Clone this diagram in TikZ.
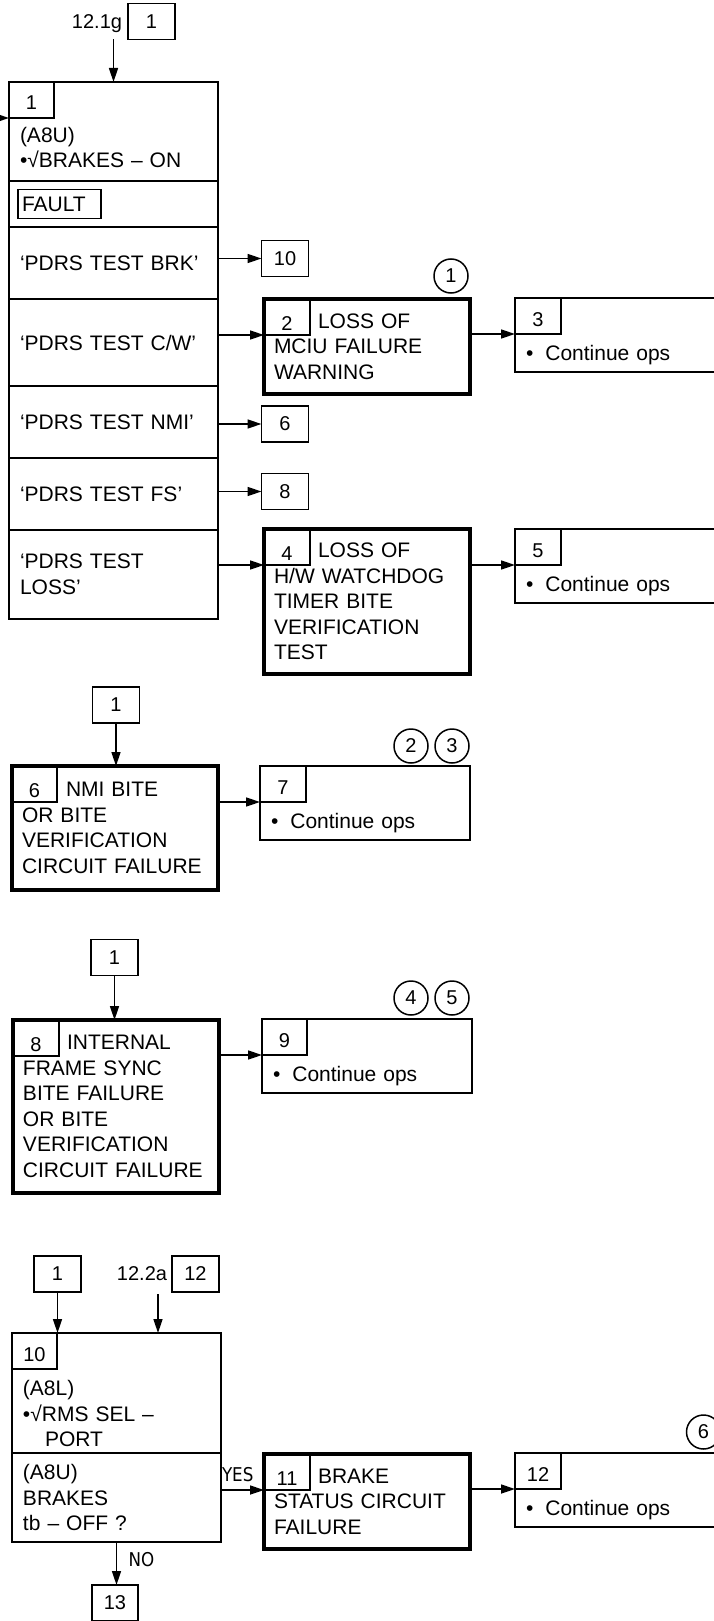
\documentclass[tikz,border=0pt]{standalone}
\usepackage{fontspec}
\setmainfont{Liberation Sans}
\newfontfamily\ynfont[FakeStretch=0.88]{DejaVu Sans}
\usetikzlibrary{arrows.meta,positioning}

\begin{document}
\begin{tikzpicture}[
  x=1pt, y=-1pt,
  font=\fontsize{21}{25.5}\selectfont,
  every node/.style={outer sep=0pt},
  refbox/.style={draw, line width=1.8pt, minimum width=47, minimum height=36, inner sep=0pt, font=\fontsize{20}{24}\selectfont},
  tab/.style={refbox, anchor=north west, minimum width=46, text height=20, text depth=0},
  ftab/.style={tab, text height=26},
  src/.style={inner sep=0pt, font=\fontsize{20}{24}\selectfont},
  row/.style={draw, line width=1.8pt, anchor=north west, minimum width=209, text width=187, inner xsep=11, inner ysep=0pt, align=left},
  fail/.style={draw, line width=4.5pt, anchor=north west, minimum width=206, text width=186, inner xsep=10, inner ysep=0pt, align=left},
  okbox/.style={draw, line width=1.8pt, anchor=north west, minimum width=210, minimum height=74, text width=188, inner xsep=11, inner ysep=0pt, align=left, text height=55, text depth=5},
  note/.style={circle, draw, line width=1.5pt, minimum size=34, inner sep=0pt, font=\fontsize{20}{24}\selectfont},
  yn/.style={inner sep=0pt, font=\ynfont\fontsize{19}{22}\selectfont},
  arr/.style={-{Triangle[length=14pt, width=9pt]}, line width=1.6pt}
]
\path[use as bounding box] (0,0) rectangle (713,1621);

\node[refbox] (ref0) at (151.5,21.5) {1};
\node[src, left=6pt of ref0.base west, anchor=base east] (src0) {12.1g};
\node[row, minimum height=99, text height=47, text depth=25] (chk1) at (9,82) {(A8U)\\•√BRAKES – ON};
\node[tab, minimum width=45] (t1) at (chk1.north west) {1};
\node[row, below=0pt of chk1, minimum height=46] (flt) {};
\node[draw, line width=1.8pt, right=9pt of flt.west, minimum height=29, text width=75, inner xsep=4, inner ysep=0pt, align=left] (fault) {FAULT};
\node[row, below=0pt of flt, minimum height=72] (brk) {‘PDRS TEST BRK’};
\node[row, below=0pt of brk, minimum height=87] (cw) {‘PDRS TEST C/W’};
\node[row, below=0pt of cw, minimum height=72] (nmi) {‘PDRS TEST NMI’};
\node[row, below=0pt of nmi, minimum height=72] (fs) {‘PDRS TEST FS’};
\node[row, below=0pt of fs, minimum height=89] (loss) {‘PDRS TEST\\LOSS’};
\coordinate (back) at (-14,118);
\draw[arr] (ref0.south -| chk1.north) -- (chk1.north);
\draw[arr] (back) -- (t1.south west);

\node[refbox] (r10) at (285,258.5) {10};
\node[refbox] (r6) at (285,424) {6};
\node[refbox] (r8) at (285,491.5) {8};
\draw[arr] (brk.east |- r10.west) -- (r10.west);
\draw[arr] (nmi.east |- r6.west) -- (r6.west);
\draw[arr] (fs.east |- r8.west) -- (r8.west);

\node[fail, minimum height=95] (f2) at (264,299) {\hspace*{44pt}LOSS OF\\MCIU FAILURE\\WARNING};
\node[ftab] (t2) at (f2.north west) {2};
\node[note] (n1) at (451,276) {1};
\node[okbox] (ok3) at (515,298) {•\hspace{12pt}Continue ops};
\node[tab] (t3) at (ok3.north west) {3};
\draw[arr] (cw.east |- t2.south west) -- (t2.south west);
\draw[arr] (f2.east |- t3.south west) -- (t3.south west);

\node[fail, minimum height=145] (f4) at (264,529) {\hspace*{44pt}LOSS OF\\H/W WATCHDOG\\TIMER BITE\\VERIFICATION\\TEST};
\node[ftab] (t4) at (f4.north west) {4};
\node[okbox] (ok5) at (515,529) {•\hspace{12pt}Continue ops};
\node[tab] (t5) at (ok5.north west) {5};
\draw[arr] (loss.east |- t4.south west) -- (t4.south west);
\draw[arr] (f4.east |- t5.south west) -- (t5.south west);

\node[refbox] (ref6) at (116,705) {1};
\node[fail, minimum height=124] (f6) at (12,766) {\hspace*{44pt}NMI BITE\\OR BITE\\VERIFICATION\\CIRCUIT FAILURE};
\node[ftab, minimum width=45] (t6) at (f6.north west) {6};
\node[okbox, minimum width=209] (ok7) at (260,766) {•\hspace{12pt}Continue ops};
\node[tab] (t7) at (ok7.north west) {7};
\node[note] (n2) at (411,746) {2};
\node[note] (n3) at (452,746) {3};
\draw[arr] (ref6.south) -- (ref6.south |- f6.north);
\draw[arr] (f6.east |- t7.south west) -- (t7.south west);

\node[refbox] (ref8) at (114.5,957.5) {1};
\node[fail, minimum height=173] (f8) at (13,1020) {\hspace*{44pt}INTERNAL\\FRAME SYNC\\BITE FAILURE\\OR BITE\\VERIFICATION\\CIRCUIT FAILURE};
\node[ftab] (t8) at (f8.north west) {8};
\node[okbox, minimum width=209] (ok9) at (262,1019) {•\hspace{12pt}Continue ops};
\node[tab, minimum width=45] (t9) at (ok9.north west) {9};
\node[note] (n4) at (411,998) {4};
\node[note] (n5) at (452,998) {5};
\draw[arr] (ref8.south) -- (ref8.south |- f8.north);
\draw[arr] (f8.east |- t9.south west) -- (t9.south west);

\node[refbox] (ref10) at (57.5,1274) {1};
\node[refbox] (ref12) at (195.5,1274) {12};
\node[src, left=5pt of ref12.base west, anchor=base east] (src12) {12.2a};
\coordinate (in12) at (158,1294);
\node[row, minimum width=208, minimum height=120, text height=40, text depth=35] (chk10) at (12,1333) {(A8L)\\•√RMS SEL –\\\hspace*{22pt}PORT};
\node[tab, minimum width=45] (t10) at (chk10.north west) {10};
\node[row, below=0pt of chk10, minimum width=208, minimum height=89] (brk10) {(A8U)\\BRAKES\\tb – OFF ?};
\draw[arr] (ref10.south) -- (ref10.south |- chk10.north);
\draw[arr] (in12) -- (in12 |- chk10.north);

\node[fail, minimum height=95] (f11) at (264,1454) {\hspace*{44pt}BRAKE\\STATUS CIRCUIT\\FAILURE};
\node[ftab] (t11) at (f11.north west) {11};
\node[okbox] (ok12) at (515,1453) {•\hspace{12pt}Continue ops};
\node[tab] (t12) at (ok12.north west) {12};
\node[note] (n6) at (703.5,1432) {6};
\node[refbox, minimum width=46] (r13) at (115,1603) {13};
\draw[arr] (brk10.east |- t11.south west) -- node[yn, pos=0, anchor=base west, xshift=1pt, yshift=9pt] (yes) {YES} (t11.south west);
\draw[arr] (f11.east |- t12.south west) -- (t12.south west);
\draw[arr] (brk10.south) -- node[yn, pos=0.4, anchor=west, xshift=12pt] (no) {NO} (brk10.south |- r13.north);
\end{tikzpicture}
\end{document}
